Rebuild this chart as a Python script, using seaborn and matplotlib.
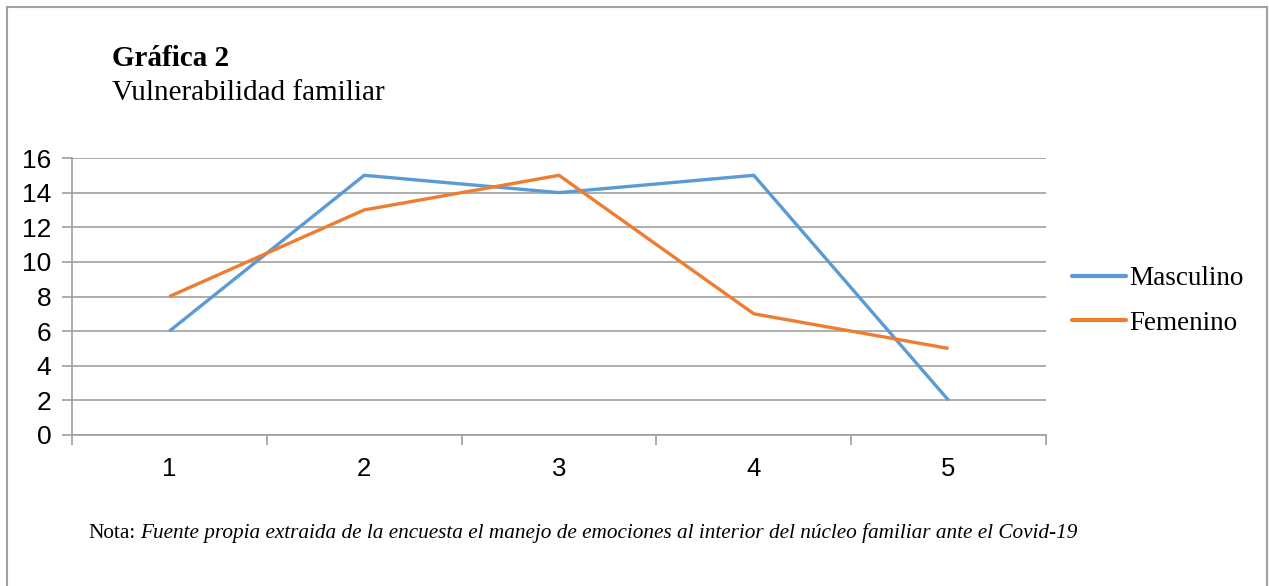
import matplotlib
matplotlib.use("Agg")
import matplotlib.pyplot as plt
import seaborn as sns
import pandas as pd
from matplotlib.lines import Line2D

categories = [1, 2, 3, 4, 5]
masculino = [6, 15, 14, 15, 2]
femenino = [8, 13, 15, 7, 5]
series_names = ["Masculino", "Femenino"]
y_ticks = [0, 2, 4, 6, 8, 10, 12, 14, 16]

df = pd.DataFrame({
    "x": categories * 2,
    "y": masculino + femenino,
    "serie": ["Masculino"] * 5 + ["Femenino"] * 5,
})

sns.set_style("white")
plt.rcParams["font.family"] = ["Liberation Sans", "DejaVu Sans"]
plt.rcParams["text.color"] = "black"
plt.rcParams["xtick.color"] = "black"
plt.rcParams["ytick.color"] = "black"

W, H = 1269, 586
fig = plt.figure(figsize=(W / 100, H / 100), dpi=100)
ax = fig.add_axes([72 / W, (H - 435) / H, (1046 - 72) / W, (435 - 158) / H])

palette = {"Masculino": "#5B9BD5", "Femenino": "#ED7D31"}
sns.lineplot(data=df, x="x", y="y", hue="serie", palette=palette, ax=ax,
             linewidth=2.4, legend=False, solid_capstyle="butt")

ax.set_xlim(0.5, 5.5)
ax.set_ylim(0, 16)
ax.set_yticks(y_ticks)
ax.set_xticks([0.5, 1.5, 2.5, 3.5, 4.5, 5.5], minor=False)
ax.set_xticks(categories, minor=True)
ax.set_xticklabels([])
ax.set_xticklabels([str(c) for c in categories], minor=True)
ax.tick_params(axis="x", which="major", length=7, width=1.2, color="#9E9E9E", direction="out", bottom=True)
ax.tick_params(axis="x", which="minor", length=0, labelsize=18.5, pad=16, labelcolor="black")
ax.tick_params(axis="y", length=7, width=1.2, color="#9E9E9E", labelsize=19, pad=8, left=True, labelcolor="black")
ax.set_xlabel("")
ax.set_ylabel("")

ax.yaxis.grid(True, color="#A0A0A0", linewidth=1.2)
ax.xaxis.grid(False)
ax.set_axisbelow(True)
for s in ["top", "right"]:
    ax.spines[s].set_visible(False)
for s in ["left", "bottom"]:
    ax.spines[s].set_color("#9E9E9E")
    ax.spines[s].set_linewidth(1.2)

serif = ["Liberation Serif", "DejaVu Serif"]
fig.text(112 / W, 1 - 59 / H, "Gráfica 2", family=serif, fontsize=21, fontweight="bold",
         va="center", ha="left", color="black")
fig.text(112 / W, 1 - 93 / H, "Vulnerabilidad familiar", family=serif, fontsize=21,
         va="center", ha="left", color="black")

handles = [Line2D([0], [0], color=palette[n], linewidth=3) for n in series_names]
leg = fig.legend(handles, series_names, loc="center left", bbox_to_anchor=(1072 / W, 1 - 301 / H),
                 frameon=False, prop={"family": "Liberation Serif", "size": 19.5},
                 handlelength=2.0, handletextpad=0.12, labelspacing=0.72,
                 borderpad=0, borderaxespad=0)
for t in leg.get_texts():
    t.set_color("black")

t1 = fig.text(88 / W, 1 - 533 / H, "Nota:", family=serif, fontsize=15.3, va="center", ha="left", color="black")
fig.canvas.draw()
bb = t1.get_window_extent(renderer=fig.canvas.get_renderer())
fig.text((bb.x1 + 5) / W, 1 - 533 / H,
         "Fuente propia extraida de la encuesta el manejo de emociones al interior del núcleo familiar ante el Covid-19",
         family=serif, fontsize=15.3, style="italic", va="center", ha="left", color="black")

# outer frame (left, top, right)
frame_color = "#A0A0A0"
fig.add_artist(Line2D([7 / W, 7 / W], [0, 1 - 7 / H], color=frame_color, linewidth=1.5, transform=fig.transFigure))
fig.add_artist(Line2D([7 / W, 1267 / W], [1 - 7 / H, 1 - 7 / H], color=frame_color, linewidth=1.5, transform=fig.transFigure))
fig.add_artist(Line2D([1267 / W, 1267 / W], [0, 1 - 7 / H], color=frame_color, linewidth=1.5, transform=fig.transFigure))

fig.savefig("out.png", dpi=100)
